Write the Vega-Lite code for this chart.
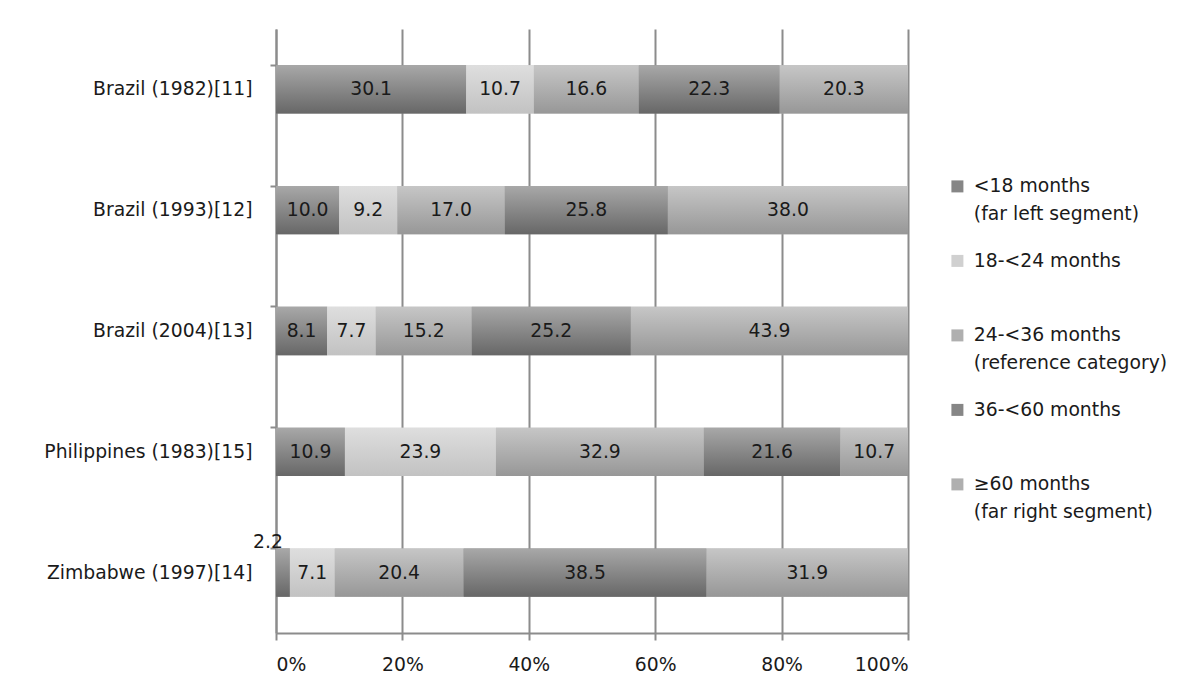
{
  "$schema": "https://vega.github.io/schema/vega-lite/v6.json",
  "autosize": "none",
  "width": 632,
  "height": 604,
  "padding": {"left": 276, "top": 29, "right": 292, "bottom": 60},
  "background": "white",
  "config": {
    "font": "DejaVu Sans",
    "view": {"stroke": null},
    "axis": {"labelFont": "DejaVu Sans", "labelColor": "#1a1a1a", "labelFontSize": 18.8, "domainColor": "#8c8c8c", "domainWidth": 2, "tickColor": "#8c8c8c", "tickWidth": 2, "gridColor": "#8c8c8c", "gridWidth": 2}
  },
  "data": {"values": [
    {"country": "Brazil (1982)[11]", "cat": "<18 months (far left segment)", "k": 1, "v": 30.1},
    {"country": "Brazil (1982)[11]", "cat": "18-<24 months", "k": 2, "v": 10.7},
    {"country": "Brazil (1982)[11]", "cat": "24-<36 months (reference category)", "k": 3, "v": 16.6},
    {"country": "Brazil (1982)[11]", "cat": "36-<60 months", "k": 4, "v": 22.3},
    {"country": "Brazil (1982)[11]", "cat": "≥60 months (far right segment)", "k": 5, "v": 20.3},
    {"country": "Brazil (1993)[12]", "cat": "<18 months (far left segment)", "k": 1, "v": 10.0},
    {"country": "Brazil (1993)[12]", "cat": "18-<24 months", "k": 2, "v": 9.2},
    {"country": "Brazil (1993)[12]", "cat": "24-<36 months (reference category)", "k": 3, "v": 17.0},
    {"country": "Brazil (1993)[12]", "cat": "36-<60 months", "k": 4, "v": 25.8},
    {"country": "Brazil (1993)[12]", "cat": "≥60 months (far right segment)", "k": 5, "v": 38.0},
    {"country": "Brazil (2004)[13]", "cat": "<18 months (far left segment)", "k": 1, "v": 8.1},
    {"country": "Brazil (2004)[13]", "cat": "18-<24 months", "k": 2, "v": 7.7},
    {"country": "Brazil (2004)[13]", "cat": "24-<36 months (reference category)", "k": 3, "v": 15.2},
    {"country": "Brazil (2004)[13]", "cat": "36-<60 months", "k": 4, "v": 25.2},
    {"country": "Brazil (2004)[13]", "cat": "≥60 months (far right segment)", "k": 5, "v": 43.9},
    {"country": "Philippines (1983)[15]", "cat": "<18 months (far left segment)", "k": 1, "v": 10.9},
    {"country": "Philippines (1983)[15]", "cat": "18-<24 months", "k": 2, "v": 23.9},
    {"country": "Philippines (1983)[15]", "cat": "24-<36 months (reference category)", "k": 3, "v": 32.9},
    {"country": "Philippines (1983)[15]", "cat": "36-<60 months", "k": 4, "v": 21.6},
    {"country": "Philippines (1983)[15]", "cat": "≥60 months (far right segment)", "k": 5, "v": 10.7},
    {"country": "Zimbabwe (1997)[14]", "cat": "<18 months (far left segment)", "k": 1, "v": 2.2},
    {"country": "Zimbabwe (1997)[14]", "cat": "18-<24 months", "k": 2, "v": 7.1},
    {"country": "Zimbabwe (1997)[14]", "cat": "24-<36 months (reference category)", "k": 3, "v": 20.4},
    {"country": "Zimbabwe (1997)[14]", "cat": "36-<60 months", "k": 4, "v": 38.5},
    {"country": "Zimbabwe (1997)[14]", "cat": "≥60 months (far right segment)", "k": 5, "v": 31.9}
  ]},
  "transform": [
    {"stack": "v", "groupby": ["country"], "sort": [{"field": "k", "order": "ascending"}], "as": ["v0", "v1"], "offset": "normalize"},
    {"calculate": "(datum.v0 + datum.v1) / 2", "as": "mid"}
  ],
  "encoding": {
    "y": {"field": "country", "type": "nominal", "sort": null,
      "scale": {"paddingInner": 0.6, "paddingOuter": 0.3},
      "axis": {"title": null, "bandPosition": 0, "tickSize": 6, "labelPadding": 18, "labelLimit": 300, "domain": true}},
    "x": {"field": "v0", "type": "quantitative",
      "scale": {"domain": [0, 1], "nice": false},
      "axis": {"title": null, "format": ".0%", "values": [0, 0.2, 0.4, 0.6, 0.8, 1], "grid": true, "tickSize": 7, "labelPadding": 15}},
    "x2": {"field": "v1"}
  },
  "layer": [
    {
      "mark": {"type": "bar"},
      "encoding": {
        "color": {"field": "cat", "type": "nominal",
          "scale": {
            "domain": ["<18 months (far left segment)", "18-<24 months", "24-<36 months (reference category)", "36-<60 months", "≥60 months (far right segment)"],
            "range": ["#868686", "#d0d0d0", "#afafaf", "#868686", "#afafaf"]
          },
          "legend": {
            "title": null, "orient": "none", "legendX": 672, "legendY": 148,
            "symbolType": "square", "symbolSize": 144, "symbolStrokeWidth": 0,
            "labelFont": "DejaVu Sans", "labelFontSize": 18.8, "labelColor": "#1a1a1a", "labelLimit": 300,
            "labelBaseline": "top", "rowPadding": 26.5, "labelOffset": 7,
            "labelExpr": "indexof(datum.label, ' (') >= 0 ? split(replace(datum.label, ' (', '|('), '|') : [datum.label, ' ']",
            "encode": {"labels": {"update": {"dy": {"value": -9}, "lineHeight": {"value": 28}}}}
          }
        }
      }
    },
    {
      "mark": {"type": "bar"},
      "encoding": {
        "color": {
          "condition": [
            {"test": "datum.k == 2", "value": {"gradient": "linear", "x1": 0, "y1": 0, "x2": 0, "y2": 1, "stops": [{"offset": 0, "color": "#dedede"}, {"offset": 1, "color": "#c2c2c2"}]}},
            {"test": "datum.k == 3 || datum.k == 5", "value": {"gradient": "linear", "x1": 0, "y1": 0, "x2": 0, "y2": 1, "stops": [{"offset": 0, "color": "#c6c6c6"}, {"offset": 1, "color": "#979797"}]}}
          ],
          "value": {"gradient": "linear", "x1": 0, "y1": 0, "x2": 0, "y2": 1, "stops": [{"offset": 0, "color": "#a8a8a8"}, {"offset": 1, "color": "#676767"}]}
        }
      }
    },
    {
      "transform": [{"filter": "datum.v >= 5"}],
      "mark": {"type": "text", "font": "DejaVu Sans", "fontSize": 18.8, "color": "#1a1a1a", "align": "center", "baseline": "middle"},
      "encoding": {
        "x": {"field": "mid", "type": "quantitative"},
        "x2": null,
        "text": {"field": "v", "type": "quantitative", "format": ".1f"}
      }
    },
    {
      "transform": [{"filter": "datum.v < 5"}],
      "mark": {"type": "text", "font": "DejaVu Sans", "fontSize": 18.8, "color": "#1a1a1a", "align": "center", "baseline": "middle", "dx": -8, "dy": -31},
      "encoding": {
        "x": {"field": "v0", "type": "quantitative"},
        "x2": null,
        "text": {"field": "v", "type": "quantitative", "format": ".1f"}
      }
    }
  ]
}
